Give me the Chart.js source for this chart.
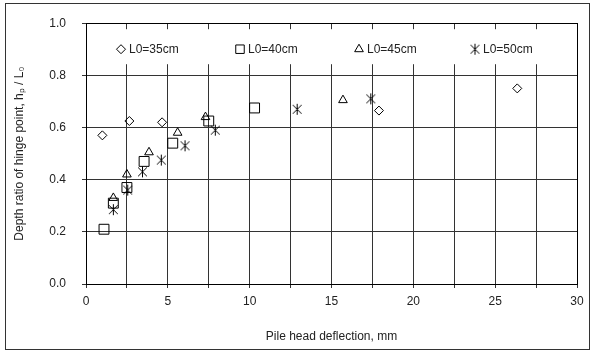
<!DOCTYPE html>
<html>
<head>
<meta charset="utf-8">
<script src="https://cdn.jsdelivr.net/npm/chart.js@4/dist/chart.umd.min.js"></script>
<style>
  html, body { margin: 0; padding: 0; background: #fff; }
  #wrap { width: 592px; height: 356px; }
</style>
</head>
<body>
<div id="wrap"><canvas id="chart" width="592" height="356"></canvas></div>
<script>
// series data: [deflection mm, hp/L0]
const seriesNames = ['L0=35cm', 'L0=40cm', 'L0=45cm', 'L0=50cm'];
const l35 = [[1.0, 0.57], [2.65, 0.625], [4.65, 0.62], [17.9, 0.665], [26.35, 0.75]];
const l40 = [[1.1, 0.21], [1.67, 0.31], [2.5, 0.37], [3.55, 0.47], [5.3, 0.54], [7.5, 0.625], [10.3, 0.675]];
const l45 = [[1.67, 0.33], [2.5, 0.42], [3.85, 0.505], [5.6, 0.58], [7.3, 0.64], [15.7, 0.705]];
const l50 = [[1.67, 0.285], [2.55, 0.36], [3.45, 0.43], [4.6, 0.475], [6.05, 0.53], [7.9, 0.59], [12.9, 0.67], [17.4, 0.71]];
const xTicks = [0, 5, 10, 15, 20, 25, 30];
const yTicks = [0.0, 0.2, 0.4, 0.6, 0.8, 1.0];

const FONT = 'Liberation Sans';

// asterisk marker: X with a vertical stroke
function makeStar(size) {
  const c = document.createElement('canvas');
  c.width = size; c.height = size;
  const g = c.getContext('2d');
  const m = size / 2, r = size / 2 - 1;
  g.strokeStyle = '#000';
  g.lineWidth = 1;
  g.beginPath();
  g.moveTo(m - r * 0.8, m - r * 0.8); g.lineTo(m + r * 0.8, m + r * 0.8);
  g.moveTo(m + r * 0.8, m - r * 0.8); g.lineTo(m - r * 0.8, m + r * 0.8);
  g.moveTo(m, m - r); g.lineTo(m, m + r);
  g.stroke();
  return c;
}
const starImg = makeStar(13);

const toPts = arr => arr.map(p => ({ x: p[0], y: p[1] }));

const styles = [
  { pointStyle: 'rectRot', radius: 4.5 },
  { pointStyle: 'rect', radius: 7 },
  { pointStyle: 'triangle', radius: 5 },
  { pointStyle: starImg, radius: 6 }
];
const allData = [l35, l40, l45, l50];

const datasets = allData.map((d, i) => ({
  label: seriesNames[i],
  data: toPts(d),
  pointStyle: styles[i].pointStyle,
  pointRadius: styles[i].radius,
  pointBackgroundColor: 'rgba(0,0,0,0)',
  pointBorderColor: '#000',
  pointBorderWidth: 1,
  showLine: false
}));

// legend drawn inside the plot, on a white band
const insideLegend = {
  id: 'insideLegend',
  afterDatasetsDraw(chart) {
    const { ctx, chartArea } = chart;
    ctx.save();
    ctx.fillStyle = '#fff';
    ctx.fillRect(chartArea.left + 1, chartArea.top + 6, chartArea.right - chartArea.left - 2, 35);
    const y = chartArea.top + 26;
    const xs = [121, 240, 359, 475];
    ctx.font = '12px ' + FONT;
    ctx.textBaseline = 'middle';
    xs.forEach((x, i) => {
      ctx.strokeStyle = '#000';
      ctx.fillStyle = 'rgba(0,0,0,0)';
      ctx.lineWidth = 1;
      Chart.helpers.drawPoint(ctx, { pointStyle: styles[i].pointStyle, radius: i === 1 ? 6 : styles[i].radius, rotation: 0, borderWidth: 1 }, x, y);
      ctx.fillStyle = '#222';
      ctx.fillText(seriesNames[i], x + 8, y);
    });
    ctx.restore();
  }
};

// frame around whole picture
const outerFrame = {
  id: 'outerFrame',
  beforeDraw(chart) {
    const { ctx } = chart;
    ctx.save();
    ctx.fillStyle = '#fff';
    ctx.fillRect(0, 0, chart.width, chart.height);
    ctx.strokeStyle = '#333';
    ctx.lineWidth = 1;
    ctx.strokeRect(5.5, 3.5, 584, 346);
    ctx.restore();
  }
};

new Chart(document.getElementById('chart'), {
  type: 'scatter',
  data: { datasets },
  options: {
    responsive: false,
    animation: false,
    layout: { padding: { left: 0, right: 15, top: 22, bottom: 0 } },
    plugins: {
      legend: { display: false },
      tooltip: { enabled: false }
    },
    scales: {
      x: {
        type: 'linear',
        min: 0, max: 30,
        afterFit: s => { s.height = 72; },
        afterBuildTicks: s => {
          const t = [];
          for (let v = 0; v <= 30; v += 2.5) t.push({ value: v });
          s.ticks = t;
        },
        ticks: {
          font: { family: FONT, size: 12 },
          color: '#222',
          padding: 6,
          maxRotation: 0,
          callback: v => xTicks.includes(v) ? String(v) : ''
        },
        grid: { color: '#333', lineWidth: 1, tickLength: 4, drawTicks: true },
        border: { color: '#000', width: 1 },
        title: {
          display: true,
          text: 'Pile head deflection, mm',
          font: { family: FONT, size: 12 },
          color: '#222',
          padding: { top: 8, bottom: 12 }
        }
      },
      y: {
        type: 'linear',
        min: 0, max: 1,
        afterFit: s => { s.width = 86; },
        afterBuildTicks: s => { s.ticks = yTicks.map(v => ({ value: v })); },
        ticks: {
          font: { family: FONT, size: 12 },
          color: '#222',
          padding: 16,
          callback: v => v.toFixed(1)
        },
        grid: { color: '#333', lineWidth: 1, tickLength: 4, drawTicks: true },
        border: { color: '#000', width: 1 },
        title: {
          display: true,
          text: 'Depth ratio of hinge point, hₚ / L₀',
          font: { family: FONT, size: 12 },
          color: '#222',
          padding: { top: 12, bottom: 0 }
        }
      }
    }
  },
  plugins: [outerFrame, insideLegend, {
    id: 'plotBox',
    afterDatasetsDraw(chart) {
      const a = chart.chartArea, ctx = chart.ctx;
      ctx.save();
      ctx.strokeStyle = '#000';
      ctx.lineWidth = 1;
      ctx.strokeRect(Math.round(a.left) + 0.5, Math.round(a.top) + 0.5, Math.round(a.right - a.left), Math.round(a.bottom - a.top));
      ctx.restore();
    }
  }]
});
</script>
</body>
</html>
